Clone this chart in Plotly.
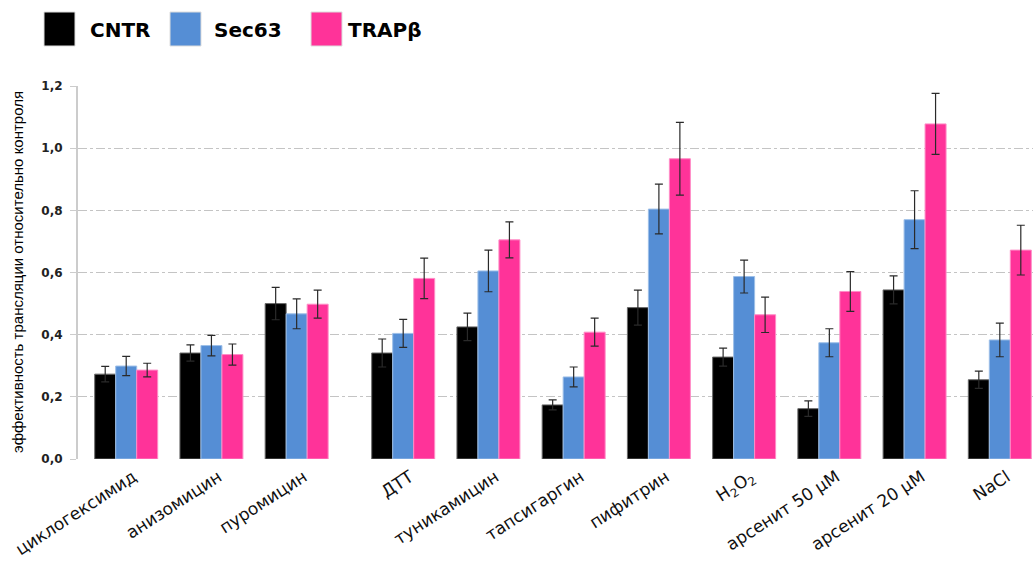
import plotly.graph_objects as go

# Treatments along the x axis
treatments = ["циклогексимид", "анизомицин", "пуромицин", "ДТТ", "туникамицин",
              "тапсигаргин", "пифитрин", "H<sub>2</sub>O<sub>2</sub>",
              "арсенит 50 µM", "арсенит 20 µM", "NaCl"]

# Translation efficiency relative to control
cntr = [0.273, 0.341, 0.500, 0.341, 0.425, 0.174, 0.487, 0.328, 0.162, 0.544, 0.255]
sec63 = [0.299, 0.365, 0.467, 0.404, 0.605, 0.264, 0.804, 0.587, 0.374, 0.770, 0.383]
trapb = [0.286, 0.336, 0.498, 0.581, 0.705, 0.408, 0.966, 0.464, 0.539, 1.078, 0.672]

# Error bar half-lengths
cntr_err = [0.025, 0.026, 0.052, 0.045, 0.044, 0.016, 0.056, 0.029, 0.025, 0.045, 0.028]
sec63_err = [0.031, 0.033, 0.048, 0.045, 0.067, 0.032, 0.080, 0.053, 0.045, 0.093, 0.054]
trapb_err = [0.022, 0.034, 0.045, 0.065, 0.058, 0.045, 0.117, 0.057, 0.064, 0.098, 0.080]

y_ticks = [0.0, 0.2, 0.4, 0.6, 0.8, 1.0, 1.2]

# Group centres on a numeric axis (wider gap after the first three inhibitors)
group_pos = [0, 1, 2, 3.25, 4.25, 5.25, 6.25, 7.25, 8.25, 9.25, 10.25]

W, H = 1033, 562
ML, MR, MT, MB = 78, 0, 86, 103
PW, PH = W - ML - MR, H - MT - MB


def px(x):
    return (x - ML) / PW


def py(y):
    return (H - MB - y) / PH


series = [
    ("CNTR", cntr, cntr_err, "#000000", "#6a6a6a"),
    ("Sec63", sec63, sec63_err, "#558ED5", "#9dbfe8"),
    ("TRAPβ", trapb, trapb_err, "#FF3399", "#ff8cc6"),
]

fig = go.Figure()
for name, vals, errs, color, edge in series:
    fig.add_trace(go.Bar(
        x=group_pos, y=vals, name=name,
        marker=dict(color=color, line=dict(color=edge, width=1)),
        error_y=dict(type="data", array=errs, color="#2a2a2a", thickness=1.2, width=4),
        showlegend=False,
    ))

# Legend drawn as large swatches with bold labels
legend_items = [("CNTR", "#000000", 44, 90), ("Sec63", "#558ED5", 170, 214), ("TRAPβ", "#FF3399", 311, 348)]
shapes = []
annotations = []
for label, color, sx, tx in legend_items:
    shapes.append(dict(type="rect", xref="paper", yref="paper",
                       x0=px(sx), x1=px(sx + 31), y0=py(46), y1=py(12),
                       fillcolor=color, line=dict(color="#dddddd", width=1)))
    annotations.append(dict(xref="paper", yref="paper", x=px(tx - 2), y=py(30),
                            text="<b>%s</b>" % label, showarrow=False,
                            xanchor="left", yanchor="middle",
                            font=dict(family="DejaVu Sans", size=20, color="#000000")))

annotations.append(dict(xref="paper", yref="paper", x=px(17), y=py(272),
                        text="эффективность трансляции относительно контроля",
                        textangle=-90, showarrow=False,
                        xanchor="center", yanchor="middle",
                        font=dict(family="Liberation Sans", size=15, color="#000000")))

fig.update_layout(
    width=W, height=H,
    margin=dict(l=ML, r=MR, t=MT, b=MB, autoexpand=False),
    paper_bgcolor="white", plot_bgcolor="white",
    barmode="group", bargap=0.261, bargroupgap=0,
    separators=", ",
    shapes=shapes, annotations=annotations,
    xaxis=dict(
        range=[(ML - 126.2) / 85.23, (W - 126.2) / 85.23],
        tickmode="array", tickvals=group_pos, ticktext=treatments,
        tickangle=-33, showgrid=False, zeroline=False, showline=False,
        ticks="", ticklabelstandoff=4, ticklabelshift=7, automargin=False,
        tickfont=dict(family="DejaVu Sans", size=17, color="#111111"),
    ),
    yaxis=dict(
        range=[0, 1.2], tickmode="array", tickvals=y_ticks, tickformat=".1f",
        showgrid=True, gridcolor="#c4c4c4", griddash="dashdot", gridwidth=1,
        zeroline=False, showline=True, linecolor="#cccccc", linewidth=2,
        ticks="outside", ticklen=6, tickcolor="#cccccc", automargin=False,
        tickfont=dict(family="DejaVu Sans", size=12, color="#222222", weight="bold"),
        ticklabelstandoff=5,
    ),
)

fig.write_html("out.html")
